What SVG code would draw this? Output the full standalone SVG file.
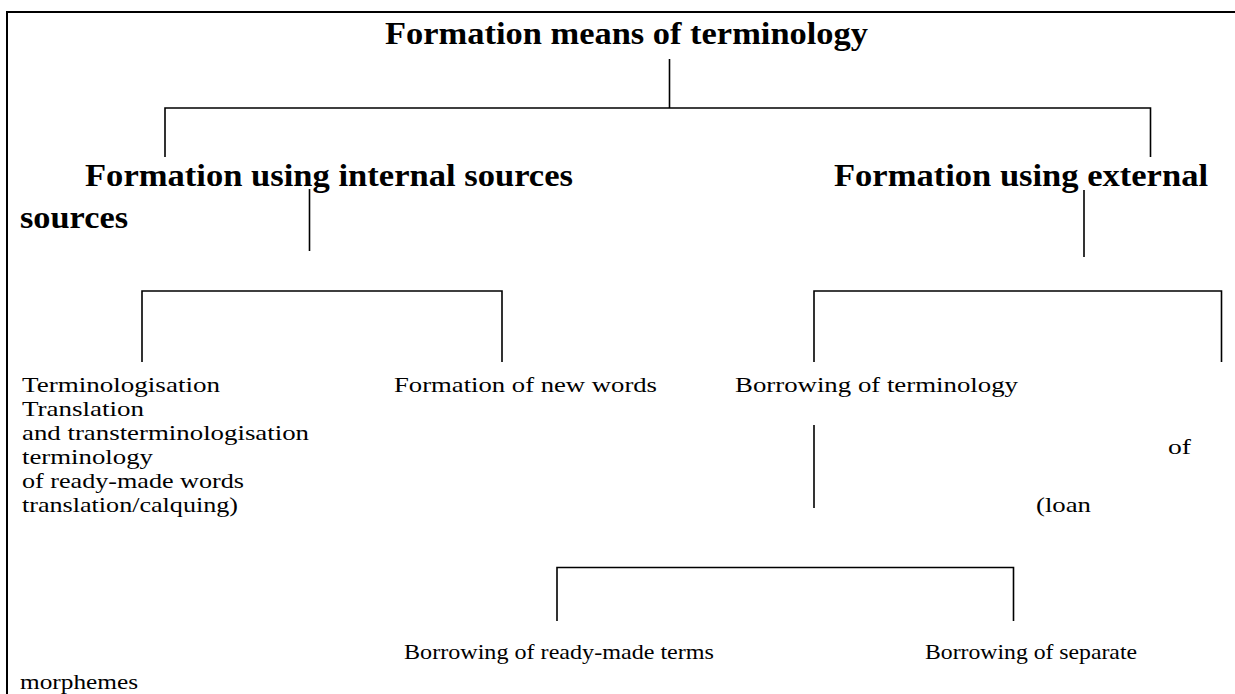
<svg xmlns="http://www.w3.org/2000/svg" width="1235" height="694" viewBox="0 0 1235 694">
<style>
.b{font-family:"Liberation Serif",serif;font-weight:bold;font-size:32px;fill:#000}
.r{font-family:"Liberation Serif",serif;font-size:22px;fill:#000}
.c{fill:none;stroke:#000;stroke-width:1.6}
</style>
<rect x="0" y="0" width="1235" height="694" fill="#fff"/>
<path d="M7 694 V12 H1235" fill="none" stroke="#000" stroke-width="2"/>
<g id="connectors" class="c">
<path d="M669.5 59 V108"/>
<path d="M165 157 V108 H1150.5 V157"/>
<path d="M309.5 189 V251"/>
<path d="M1084 190 V257"/>
<path d="M142 362 V291 H502 V362"/>
<path d="M814 362 V291 H1221.5 V362"/>
<path d="M814 425 V508"/>
<path d="M557 621 V567.5 H1013.5 V621"/>
</g>
<g id="root"><text class="b" x="385" y="44" textLength="483" lengthAdjust="spacingAndGlyphs">Formation means of terminology</text></g>
<g id="internal"><text class="b" x="85" y="186" textLength="488" lengthAdjust="spacingAndGlyphs">Formation using internal sources</text><text class="b" x="20" y="228" textLength="108" lengthAdjust="spacingAndGlyphs">sources</text></g>
<g id="external"><text class="b" x="834" y="186" textLength="374" lengthAdjust="spacingAndGlyphs">Formation using external</text></g>
<g id="terminologisation">
<text class="r" x="22" y="392" textLength="198" lengthAdjust="spacingAndGlyphs">Terminologisation</text>
<text class="r" x="22" y="416" textLength="122" lengthAdjust="spacingAndGlyphs">Translation</text>
<text class="r" x="22" y="440" textLength="287" lengthAdjust="spacingAndGlyphs">and transterminologisation</text>
<text class="r" x="22" y="464" textLength="131" lengthAdjust="spacingAndGlyphs">terminology</text>
<text class="r" x="22" y="488" textLength="222" lengthAdjust="spacingAndGlyphs">of ready-made words</text>
<text class="r" x="22" y="512" textLength="216" lengthAdjust="spacingAndGlyphs">translation/calquing)</text>
</g>
<g id="newwords"><text class="r" x="394" y="392" textLength="263" lengthAdjust="spacingAndGlyphs">Formation of new words</text></g>
<g id="borrowing"><text class="r" x="735" y="392" textLength="283" lengthAdjust="spacingAndGlyphs">Borrowing of terminology</text><text class="r" x="1168" y="454" textLength="23" lengthAdjust="spacingAndGlyphs">of</text><text class="r" x="1036" y="512" textLength="55" lengthAdjust="spacingAndGlyphs">(loan</text></g>
<g id="readymade"><text class="r" x="404" y="659" textLength="310" lengthAdjust="spacingAndGlyphs">Borrowing of ready-made terms</text></g>
<g id="separate"><text class="r" x="925" y="659" textLength="212" lengthAdjust="spacingAndGlyphs">Borrowing of separate</text><text class="r" x="20" y="689" textLength="118" lengthAdjust="spacingAndGlyphs">morphemes</text></g>
</svg>
